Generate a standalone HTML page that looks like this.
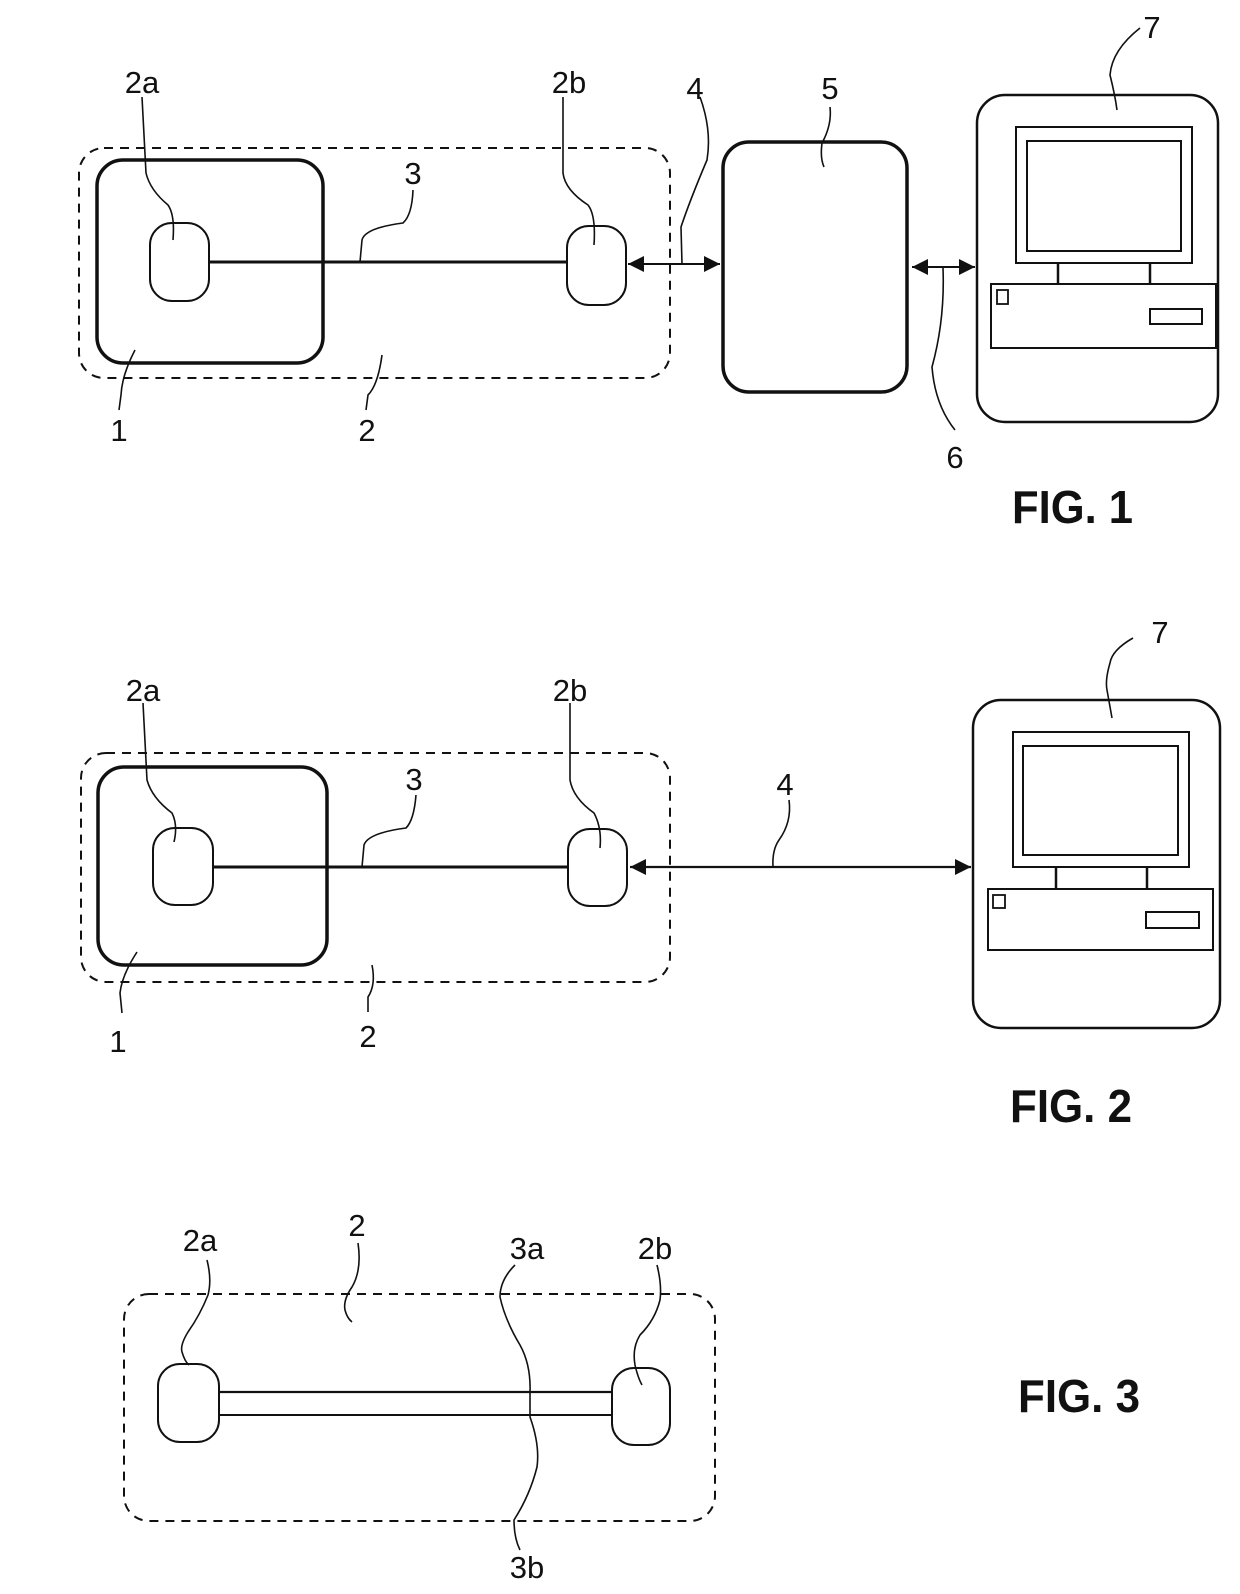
<!DOCTYPE html>
<html><head><meta charset="utf-8"><style>
html,body{margin:0;padding:0;background:#fff;}
svg{display:block;}
text{font-family:"Liberation Sans",sans-serif;fill:#111;}
.l{font-size:31px;text-anchor:middle;}
.f{font-size:46px;font-weight:bold;}
</style></head><body>
<svg width="1240" height="1594" viewBox="0 0 1240 1594" xmlns="http://www.w3.org/2000/svg">
<defs>
<marker id="ah" viewBox="0 0 10 10" refX="10" refY="5" markerWidth="20" markerHeight="16" markerUnits="userSpaceOnUse" orient="auto-start-reverse"><path d="M0,0 L10,5 L0,10 z" fill="#111"/></marker>
</defs>
<g fill="none" stroke="#111">
<!-- FIG 1 -->
<rect x="79" y="148" width="591" height="230" rx="25" stroke-width="2" stroke-dasharray="9,7"/>
<rect x="97" y="160" width="226" height="203" rx="26" stroke-width="3.5"/>
<rect x="150" y="223" width="59" height="78" rx="22" stroke-width="2"/>
<rect x="567" y="226" width="59" height="79" rx="22" stroke-width="2"/>
<line x1="209" y1="262" x2="567" y2="262" stroke-width="3"/>
<line x1="628" y1="264" x2="720" y2="264" stroke-width="2" marker-start="url(#ah)" marker-end="url(#ah)"/>
<rect x="723" y="142" width="184" height="250" rx="26" stroke-width="3.5"/>
<line x1="912" y1="267" x2="975" y2="267" stroke-width="2" marker-start="url(#ah)" marker-end="url(#ah)"/>
<rect x="977" y="95" width="241" height="327" rx="28" stroke-width="2.5"/>
<rect x="1016" y="127" width="176" height="136" stroke-width="2"/>
<rect x="1027" y="141" width="154" height="110" stroke-width="2"/>
<line x1="1058" y1="263" x2="1058" y2="284" stroke-width="2.5"/>
<line x1="1150" y1="263" x2="1150" y2="284" stroke-width="2.5"/>
<rect x="991" y="284" width="225" height="64" stroke-width="2"/>
<rect x="997" y="290" width="11" height="14" stroke-width="1.8"/>
<rect x="1150" y="309" width="52" height="15" stroke-width="2"/>
<g stroke-width="1.6">
<path d="M142,97 L146,173 Q150,190 168,205 Q175,215 173,240"/>
<path d="M563,97 L563,173 Q565,190 588,205 Q596,215 594,245"/>
<path d="M413,190 Q412,215 403,223 Q365,228 362,240 L360,262"/>
<path d="M700,97 Q712,130 707,160 Q690,200 681,227 L682,264"/>
<path d="M830,107 Q832,125 822,143 Q820,158 824,167"/>
<path d="M943,268 Q945,320 932,367 Q935,405 955,430"/>
<path d="M1140,28 Q1112,50 1110,75 Q1115,95 1117,110"/>
<path d="M135,350 Q122,375 121,395 L119,410"/>
<path d="M382,355 Q378,385 368,395 L366,410"/>
</g>
<!-- FIG 2 -->
<rect x="81" y="753" width="589" height="229" rx="25" stroke-width="2" stroke-dasharray="9,7"/>
<rect x="98" y="767" width="229" height="198" rx="26" stroke-width="3.5"/>
<rect x="153" y="828" width="60" height="77" rx="22" stroke-width="2"/>
<rect x="568" y="829" width="59" height="77" rx="22" stroke-width="2"/>
<line x1="213" y1="867" x2="568" y2="867" stroke-width="3"/>
<line x1="630" y1="867" x2="971" y2="867" stroke-width="2.2" marker-start="url(#ah)" marker-end="url(#ah)"/>
<rect x="973" y="700" width="247" height="328" rx="28" stroke-width="2.5"/>
<rect x="1013" y="732" width="176" height="135" stroke-width="2"/>
<rect x="1023" y="746" width="155" height="109" stroke-width="2"/>
<line x1="1056" y1="867" x2="1056" y2="889" stroke-width="2.5"/>
<line x1="1147" y1="867" x2="1147" y2="889" stroke-width="2.5"/>
<rect x="988" y="889" width="225" height="61" stroke-width="2"/>
<rect x="993" y="895" width="12" height="13" stroke-width="1.8"/>
<rect x="1146" y="912" width="53" height="16" stroke-width="2"/>
<g stroke-width="1.6">
<path d="M143,703 L147,780 Q152,798 172,813 Q178,825 174,842"/>
<path d="M570,703 L570,780 Q573,798 594,813 Q602,828 600,848"/>
<path d="M416,795 Q414,820 406,828 Q368,833 364,845 L362,867"/>
<path d="M789,800 Q792,822 779,840 Q772,850 773,867"/>
<path d="M1133,638 Q1112,650 1110,663 Q1105,680 1107,690 L1112,718"/>
<path d="M137,952 Q122,975 120,993 L122,1013"/>
<path d="M372,965 Q376,985 368,997 L368,1012"/>
</g>
<!-- FIG 3 -->
<rect x="124" y="1294" width="591" height="227" rx="25" stroke-width="2" stroke-dasharray="9,7"/>
<rect x="158" y="1364" width="61" height="78" rx="22" stroke-width="2"/>
<rect x="612" y="1368" width="58" height="77" rx="22" stroke-width="2"/>
<line x1="219" y1="1392" x2="612" y2="1392" stroke-width="2.2"/>
<line x1="219" y1="1415" x2="612" y2="1415" stroke-width="2"/>
<g stroke-width="1.6">
<path d="M207,1260 Q212,1280 208,1295 Q200,1315 188,1332 Q180,1345 182,1352 Q185,1362 189,1365"/>
<path d="M358,1243 Q362,1270 352,1287 Q343,1300 345,1310 Q347,1318 352,1322"/>
<path d="M515,1265 Q500,1280 500,1297 Q505,1320 520,1345 Q531,1365 530,1392 L530,1417 Q540,1445 537,1467 Q530,1495 514,1520 Q514,1538 520,1550"/>
<path d="M657,1265 Q662,1285 660,1300 Q655,1320 640,1335 Q632,1348 635,1365 Q638,1378 642,1385"/>
</g>
</g>
<text class="l" x="142" y="93">2a</text>
<text class="l" x="569" y="93">2b</text>
<text class="l" x="413" y="184">3</text>
<text class="l" x="695" y="99">4</text>
<text class="l" x="830" y="99">5</text>
<text class="l" x="1152" y="38">7</text>
<text class="l" x="119" y="441">1</text>
<text class="l" x="367" y="441">2</text>
<text class="l" x="955" y="468">6</text>
<text class="f" x="1012" y="523" textLength="121" lengthAdjust="spacingAndGlyphs">FIG. 1</text>

<text class="l" x="143" y="701">2a</text>
<text class="l" x="570" y="701">2b</text>
<text class="l" x="414" y="790">3</text>
<text class="l" x="785" y="795">4</text>
<text class="l" x="1160" y="643">7</text>
<text class="l" x="118" y="1052">1</text>
<text class="l" x="368" y="1047">2</text>
<text class="f" x="1010" y="1122" textLength="122" lengthAdjust="spacingAndGlyphs">FIG. 2</text>

<text class="l" x="200" y="1251">2a</text>
<text class="l" x="357" y="1236">2</text>
<text class="l" x="527" y="1259">3a</text>
<text class="l" x="655" y="1259">2b</text>
<text class="l" x="527" y="1578">3b</text>
<text class="f" x="1018" y="1412" textLength="122" lengthAdjust="spacingAndGlyphs">FIG. 3</text>
</svg>
</body></html>
